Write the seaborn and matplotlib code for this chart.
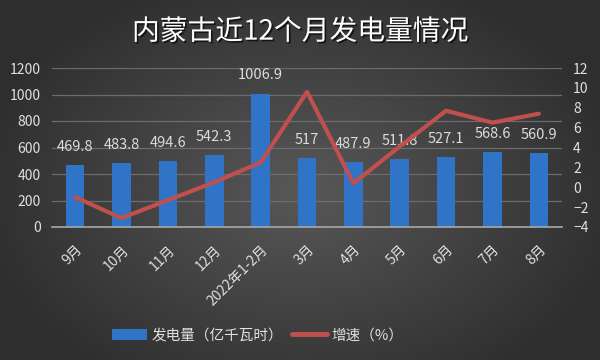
import numpy as np
import pandas as pd
import matplotlib
matplotlib.use("Agg")
import matplotlib.pyplot as plt
import matplotlib.patheffects as pe
from matplotlib.patches import Patch
from matplotlib.lines import Line2D
import seaborn as sns

months = ["9月", "10月", "11月", "12月", "2022年1-2月", "3月", "4月", "5月", "6月", "7月", "8月"]
output = [469.8, 483.8, 494.6, 542.3, 1006.9, 517, 487.9, 511.8, 527.1, 568.6, 560.9]
growth = [-1.0, -3.1, -1.3, 0.5, 2.5, 9.6, 0.4, 4.1, 7.7, 6.5, 7.4]
left_ticks = [0, 200, 400, 600, 800, 1000, 1200]
right_ticks = [-4, -2, 0, 2, 4, 6, 8, 10, 12]
title = "内蒙古近12个月发电量情况"
bar_label = "发电量（亿千瓦时）"
line_label = "增速（%）"

sns.set_theme(style="dark")
plt.rcParams["font.family"] = ["Noto Sans CJK SC", "DejaVu Sans"]

df = pd.DataFrame({"month": months, "output": output, "growth": growth})
df["pos"] = np.arange(len(months))

fig = plt.figure(figsize=(6, 3.6), dpi=100)

# radial gradient background
bg = fig.add_axes([0, 0, 1, 1], zorder=-10)
yy, xx = np.mgrid[0:360, 0:600]
r = np.sqrt(((xx - 300) / 330.0) ** 2 + ((yy - 190) / 230.0) ** 2)
r = np.clip(r, 0, 1)
c0 = np.array([0x58, 0x58, 0x58]) / 255.0
c1 = np.array([0x2e, 0x2e, 0x2e]) / 255.0
img = c0[None, None, :] * (1 - r[..., None]) + c1[None, None, :] * r[..., None]
bg.imshow(img, aspect="auto", extent=[0, 1, 0, 1])
bg.set_axis_off()

ax = fig.add_axes([52 / 600, 133 / 360, 510 / 600, 159 / 360])
ax.set_facecolor("none")
sns.barplot(data=df, x="month", y="output", ax=ax, color="#2f74c6",
            width=0.4, saturation=1, zorder=3, edgecolor="none", linewidth=0)
ax.set_ylim(0, 1200)
ax.set_xlim(-0.5, len(months) - 0.5)
ax.set_yticks(left_ticks)
ax.grid(axis="y", color="#6c6c6c", linewidth=0.9, zorder=0)
ax.grid(axis="x", visible=False)
for s in ["top", "right", "left"]:
    ax.spines[s].set_visible(False)
ax.spines["bottom"].set_color("#a8a8a8")
ax.spines["bottom"].set_linewidth(1.2)
ax.spines["bottom"].set_zorder(5)
ax.tick_params(axis="y", colors="#e0e0e0", labelsize=10, length=0, pad=8)
ax.tick_params(axis="x", colors="#e0e0e0", labelsize=10, length=0, pad=11)
ax.set_xlabel("")
ax.set_ylabel("")
ax.set_xticks(range(len(months)))
ax.set_xticklabels(months, rotation=45, ha="right", rotation_mode="anchor")

for i, v in enumerate(output):
    ax.annotate(f"{v:g}", (i, v), xytext=(0, 8), textcoords="offset points",
                ha="center", va="bottom", color="#dcdcdc", fontsize=10.5, zorder=6)

ax2 = ax.twinx()
ax2.set_facecolor("none")
sns.lineplot(data=df, x="pos", y="growth", ax=ax2, color="#c0504d",
             linewidth=3, zorder=4)
ax2.set_ylim(-4, 12)
ax2.set_xlim(-0.5, len(months) - 0.5)
ax2.set_yticks(right_ticks)
ax2.grid(False)
for s in ax2.spines.values():
    s.set_visible(False)
ax2.tick_params(axis="y", colors="#e0e0e0", labelsize=10, length=0, pad=8)
ax2.set_ylabel("")
ax2.set_xlabel("")

fig.text(0.5, 0.912, title, ha="center", va="center", color="white",
         fontsize=20, fontweight="medium",
         path_effects=[pe.withSimplePatchShadow(offset=(1.2, -1.2), shadow_rgbFace="#111111", alpha=0.9)])

handles = [Patch(facecolor="#2f74c6", edgecolor="none"),
           Line2D([0], [0], color="#c0504d", linewidth=3.5)]
leg = fig.legend(handles, [bar_label, line_label], loc="center",
                 bbox_to_anchor=(0.43, 0.068), ncol=2, frameon=False,
                 fontsize=10.5, handlelength=2.4, handletextpad=0.3, columnspacing=0.6)
for t in leg.get_texts():
    t.set_color("#e0e0e0")

fig.savefig("out.png", dpi=100)
